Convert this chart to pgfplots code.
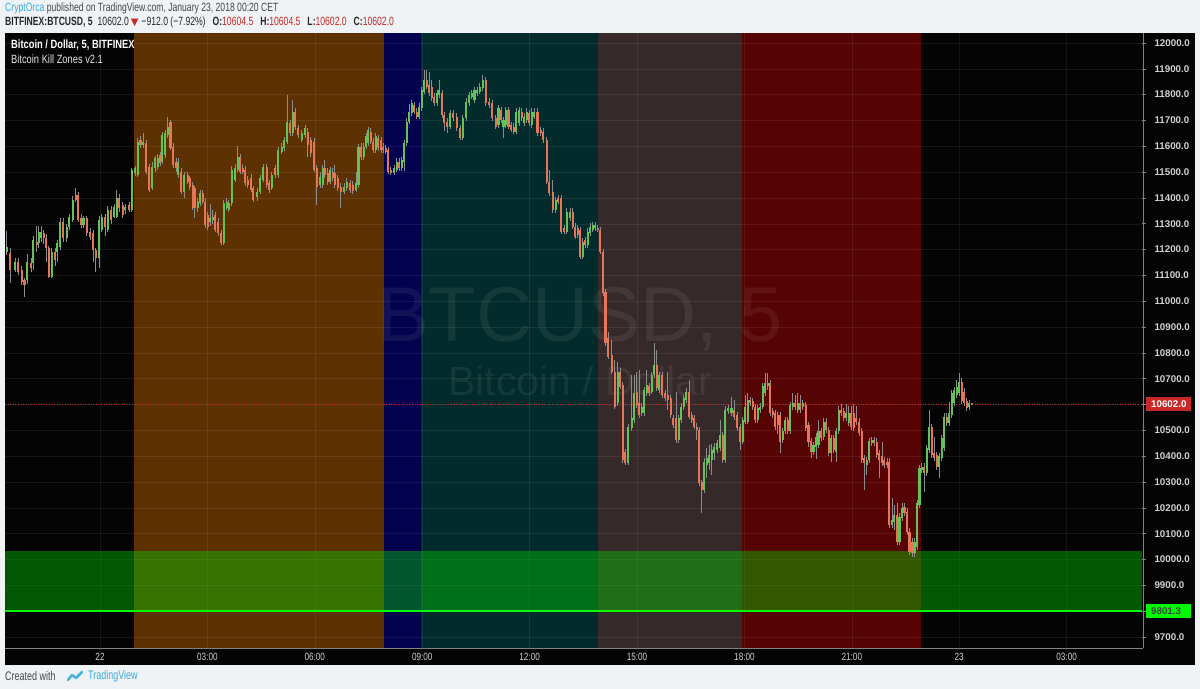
\documentclass[border=0pt]{standalone}
\usepackage{pgfplots}
\pgfplotsset{compat=1.18}
\usepackage{pgfplotstable}
\usepackage{fontspec}
\setmainfont{Liberation Sans}
\newfontfamily\nar{Liberation Sans}[FakeStretch=0.78]
\newfontfamily\hdr{Liberation Sans}[FakeStretch=0.72]
\newfontfamily\sym{DejaVu Sans}
\pgfdeclarelayer{bgl}
\pgfsetlayers{bgl,main}
\definecolor{bg}{RGB}{240,243,246}
\definecolor{panel}{RGB}{4,4,4}
\definecolor{orz}{RGB}{94,49,2}
\definecolor{navz}{RGB}{2,2,78}
\definecolor{tealz}{RGB}{3,43,43}
\definecolor{brz}{RGB}{54,41,41}
\definecolor{redz}{RGB}{86,3,3}
\definecolor{upc}{RGB}{100,194,86}
\definecolor{dnc}{RGB}{230,118,88}
\definecolor{wickc}{RGB}{140,140,145}
\definecolor{tvblue}{RGB}{60,170,220}
\definecolor{hdrgray}{RGB}{70,70,70}
\definecolor{valred}{RGB}{200,40,40}
\definecolor{axtxt}{RGB}{210,210,210}
\definecolor{sepc}{RGB}{130,130,130}
\definecolor{kzgreen}{RGB}{0,215,0}
\definecolor{lvlgreen}{RGB}{0,250,0}

\pgfplotstableread{
t o h l c
-2.61 11192 11272 11179 11211
-2.51 11186 11206 11071 11121
-2.37 11121 11168 11113 11153
-2.28 11153 11168 11102 11115
-2.19 11121 11137 11063 11076
-2.11 11082 11090 11017 11063
-2.03 11082 11183 11067 11151
-1.93 11147 11168 11113 11128
-1.86 11147 11253 11121 11237
-1.77 11231 11291 11191 11218
-1.71 11225 11291 11206 11269
-1.64 11244 11291 11229 11269
-1.57 11263 11276 11222 11244
-1.50 11244 11260 11152 11205
-1.43 11205 11214 11090 11095
-1.35 11095 11206 11090 11192
-1.26 11192 11206 11137 11160
-1.19 11192 11237 11152 11225
-1.12 11211 11322 11199 11308
-1.03 11308 11322 11229 11244
-0.93 11244 11299 11229 11289
-0.86 11289 11338 11276 11327
-0.76 11315 11408 11307 11392
-0.68 11411 11439 11384 11392
-0.61 11411 11423 11307 11315
-0.53 11321 11338 11284 11295
-0.46 11295 11330 11284 11321
-0.37 11321 11330 11253 11263
-0.28 11269 11284 11237 11250
-0.19 11263 11276 11152 11199
-0.12 11199 11206 11113 11166
-0.02 11166 11330 11129 11315
0.05 11276 11338 11268 11327
0.14 11327 11338 11253 11289
0.22 11276 11369 11268 11353
0.31 11353 11369 11299 11315
0.40 11327 11377 11322 11366
0.47 11327 11431 11322 11399
0.54 11399 11415 11346 11360
0.63 11373 11384 11322 11334
0.70 11353 11377 11338 11366
0.81 11373 11384 11346 11353
0.89 11353 11516 11346 11508
0.98 11495 11524 11485 11515
1.05 11489 11632 11481 11618
1.13 11624 11640 11593 11605
1.21 11605 11651 11593 11618
1.29 11612 11624 11493 11502
1.37 11521 11531 11423 11431
1.45 11437 11539 11431 11521
1.54 11515 11563 11500 11554
1.61 11521 11570 11508 11554
1.68 11566 11578 11524 11534
1.74 11540 11655 11531 11644
1.82 11566 11663 11555 11651
1.89 11644 11713 11632 11676
1.97 11695 11702 11586 11592
2.05 11599 11613 11516 11528
2.12 11540 11555 11500 11515
2.19 11489 11555 11477 11540
2.26 11502 11516 11415 11424
2.35 11424 11500 11400 11489
2.45 11489 11500 11454 11463
2.51 11476 11485 11431 11444
2.59 11450 11462 11353 11360
2.65 11437 11446 11322 11360
2.73 11360 11400 11346 11386
2.79 11379 11431 11369 11419
2.87 11419 11431 11377 11386
2.93 11386 11400 11284 11295
3.01 11334 11346 11276 11289
3.07 11308 11377 11291 11321
3.15 11315 11353 11299 11327
3.21 11334 11346 11268 11276
3.30 11308 11322 11253 11263
3.38 11263 11276 11218 11225
3.46 11225 11392 11218 11379
3.54 11360 11400 11353 11386
3.60 11353 11392 11346 11379
3.68 11379 11524 11369 11508
3.77 11470 11531 11462 11515
3.85 11508 11602 11500 11560
3.91 11560 11570 11493 11502
3.99 11515 11531 11493 11502
4.05 11508 11524 11446 11457
4.13 11470 11485 11439 11450
4.22 11476 11493 11423 11431
4.28 11437 11446 11384 11392
4.39 11405 11439 11388 11424
4.47 11424 11489 11415 11476
4.56 11470 11531 11462 11521
4.66 11521 11531 11439 11450
4.73 11457 11470 11419 11431
4.80 11437 11500 11431 11489
4.89 11515 11528 11477 11489
4.98 11489 11597 11477 11586
5.08 11579 11613 11570 11599
5.15 11592 11636 11582 11624
5.23 11618 11799 11609 11695
5.31 11689 11702 11640 11651
5.38 11651 11779 11640 11734
5.45 11734 11748 11663 11676
5.54 11670 11682 11632 11644
5.63 11624 11663 11617 11651
5.73 11644 11682 11632 11670
5.80 11657 11671 11559 11605
5.89 11624 11636 11559 11573
5.98 11618 11632 11500 11508
6.05 11515 11528 11373 11444
6.15 11450 11500 11439 11483
6.22 11450 11528 11439 11515
6.28 11515 11547 11477 11489
6.36 11495 11516 11450 11463
6.43 11463 11520 11454 11508
6.50 11502 11516 11466 11476
6.56 11495 11528 11439 11450
6.64 11476 11489 11427 11437
6.72 11444 11458 11361 11424
6.82 11424 11458 11415 11444
6.89 11437 11477 11427 11463
6.98 11457 11470 11419 11431
7.06 11450 11466 11415 11427
7.15 11431 11500 11423 11457
7.22 11450 11609 11439 11599
7.29 11599 11613 11547 11560
7.37 11560 11613 11547 11599
7.43 11599 11651 11590 11638
7.49 11612 11675 11602 11663
7.56 11657 11671 11609 11618
7.63 11618 11632 11574 11586
7.70 11586 11651 11574 11638
7.77 11631 11644 11582 11592
7.85 11624 11636 11574 11586
7.91 11599 11613 11574 11586
7.98 11592 11605 11570 11579
8.05 11586 11597 11493 11502
8.12 11508 11520 11489 11495
8.21 11495 11528 11489 11515
8.29 11508 11555 11500 11540
8.35 11540 11555 11504 11515
8.43 11515 11559 11504 11547
8.50 11540 11624 11504 11612
8.57 11612 11710 11602 11695
8.64 11695 11764 11686 11734
8.71 11728 11779 11717 11766
8.78 11760 11772 11726 11734
8.85 11734 11748 11706 11715
8.92 11715 11768 11706 11753
8.99 11747 11830 11737 11818
9.06 11811 11895 11802 11857
9.13 11857 11895 11822 11831
9.20 11837 11888 11795 11805
9.27 11831 11857 11775 11786
9.34 11792 11806 11756 11766
9.41 11766 11818 11756 11805
9.48 11799 11857 11787 11818
9.55 11805 11818 11710 11721
9.62 11721 11733 11659 11689
9.70 11695 11710 11651 11676
9.78 11676 11741 11667 11728
9.87 11728 11741 11698 11709
9.96 11715 11729 11659 11670
10.06 11670 11682 11624 11631
10.13 11631 11721 11624 11709
10.22 11709 11787 11698 11773
10.31 11766 11810 11756 11799
10.38 11792 11818 11783 11805
10.46 11779 11830 11768 11818
10.54 11805 11830 11795 11818
10.61 11811 11845 11802 11831
10.69 11825 11876 11814 11857
10.77 11857 11868 11756 11766
10.87 11773 11787 11748 11760
10.96 11766 11779 11698 11709
11.05 11709 11721 11667 11676
11.13 11682 11760 11671 11747
11.20 11741 11752 11690 11702
11.27 11676 11713 11632 11702
11.33 11682 11752 11671 11741
11.41 11741 11752 11667 11676
11.48 11682 11694 11655 11663
11.56 11676 11690 11648 11657
11.62 11657 11748 11648 11734
11.71 11689 11752 11679 11741
11.78 11734 11748 11698 11709
11.85 11689 11729 11679 11715
11.92 11702 11748 11690 11734
11.99 11728 11741 11679 11689
12.06 11682 11748 11671 11734
12.13 11715 11748 11706 11734
12.22 11734 11748 11640 11651
12.31 11663 11675 11640 11651
12.38 11657 11671 11613 11624
12.48 11624 11636 11454 11463
12.55 11463 11508 11408 11419
12.65 11424 11470 11342 11353
12.73 11353 11404 11342 11392
12.80 11399 11411 11377 11386
12.88 11399 11411 11260 11269
12.97 11282 11295 11260 11269
13.04 11269 11361 11260 11347
13.13 11321 11361 11311 11347
13.20 11347 11361 11280 11289
13.27 11289 11303 11241 11250
13.34 11282 11295 11245 11257
13.41 11276 11288 11164 11173
13.48 11173 11245 11164 11231
13.55 11237 11249 11206 11218
13.62 11218 11284 11206 11269
13.69 11263 11303 11253 11289
13.76 11276 11307 11268 11295
13.83 11282 11307 11272 11295
13.90 11282 11295 11268 11276
13.97 11276 11288 11183 11192
14.05 11192 11202 11020 11031
14.12 11037 11048 10827 10837
14.20 10857 10881 10775 10785
14.29 10792 10850 10720 10727
14.38 10727 10773 10583 10592
14.46 10605 10765 10595 10727
14.53 10727 10742 10661 10670
14.60 10676 10688 10374 10385
14.67 10418 10429 10366 10373
14.76 10373 10525 10366 10514
14.85 10508 10714 10498 10547
14.92 10540 10714 10529 10645
14.99 10650 10726 10587 10598
15.06 10605 10734 10549 10560
15.13 10566 10607 10556 10592
15.20 10566 10668 10556 10656
15.27 10645 10734 10633 10676
15.34 10670 10684 10633 10645
15.41 10650 10726 10641 10713
15.48 10713 10837 10703 10752
15.55 10752 10811 10653 10663
15.62 10656 10726 10645 10713
15.70 10713 10726 10626 10637
15.78 10645 10656 10615 10625
15.86 10637 10726 10579 10618
15.94 10625 10637 10549 10560
16.01 10547 10560 10510 10521
16.09 10547 10649 10452 10463
16.16 10463 10560 10452 10547
16.23 10540 10607 10529 10592
16.30 10592 10637 10579 10625
16.37 10618 10665 10607 10650
16.45 10650 10695 10545 10553
16.53 10560 10572 10529 10540
16.60 10547 10560 10506 10514
16.67 10514 10529 10463 10502
16.74 10502 10514 10285 10296
16.81 10301 10308 10181 10269
16.88 10269 10393 10257 10379
16.95 10366 10432 10316 10392
17.02 10373 10444 10347 10405
17.09 10385 10447 10328 10424
17.16 10412 10452 10385 10437
17.24 10424 10463 10413 10451
17.32 10432 10540 10421 10483
17.39 10483 10494 10374 10385
17.46 10385 10594 10374 10579
17.55 10574 10598 10565 10587
17.64 10566 10630 10556 10587
17.72 10579 10618 10540 10553
17.79 10560 10572 10498 10508
17.88 10514 10525 10424 10457
17.95 10457 10552 10447 10540
18.02 10534 10637 10525 10592
18.09 10534 10645 10525 10618
18.16 10618 10630 10595 10605
18.23 10612 10626 10579 10592
18.30 10592 10602 10529 10540
18.37 10540 10598 10529 10587
18.44 10579 10607 10569 10592
18.51 10592 10684 10583 10670
18.58 10645 10722 10633 10682
18.65 10670 10722 10656 10682
18.72 10682 10695 10556 10566
18.79 10574 10587 10549 10560
18.86 10566 10579 10502 10514
18.93 10560 10572 10486 10521
19.00 10560 10572 10413 10457
19.07 10463 10510 10452 10496
19.14 10496 10552 10486 10540
19.21 10540 10552 10486 10496
19.28 10496 10611 10486 10598
19.35 10592 10645 10579 10605
19.42 10605 10637 10579 10592
19.49 10579 10645 10569 10605
19.56 10605 10637 10569 10579
19.63 10592 10618 10579 10605
19.71 10598 10611 10498 10508
19.79 10521 10533 10436 10457
19.86 10457 10471 10393 10418
19.93 10418 10456 10405 10444
20.00 10437 10490 10389 10475
20.07 10444 10540 10432 10496
20.14 10496 10510 10460 10470
20.21 10475 10549 10463 10534
20.28 10534 10549 10490 10502
20.35 10502 10514 10401 10412
20.42 10412 10483 10378 10470
20.49 10470 10483 10413 10424
20.56 10418 10510 10378 10496
20.63 10496 10594 10486 10579
20.70 10579 10602 10556 10566
20.77 10574 10587 10537 10547
20.84 10547 10602 10537 10566
20.91 10528 10595 10518 10566
20.98 10566 10595 10502 10514
21.05 10566 10602 10498 10508
21.12 10547 10595 10521 10534
21.20 10534 10549 10479 10489
21.28 10496 10510 10374 10385
21.35 10392 10405 10269 10373
21.42 10366 10397 10328 10385
21.49 10385 10471 10374 10457
21.56 10451 10475 10440 10463
21.63 10463 10475 10440 10451
21.70 10457 10471 10393 10405
21.77 10412 10424 10316 10385
21.84 10399 10456 10362 10373
21.91 10385 10397 10355 10366
21.98 10379 10393 10355 10366
22.05 10379 10393 10122 10134
22.12 10134 10238 10122 10153
22.19 10146 10211 10114 10172
22.26 10172 10219 10056 10069
22.33 10069 10180 10056 10166
22.40 10160 10219 10149 10198
22.47 10204 10219 10168 10179
22.54 10185 10200 10095 10108
22.61 10108 10122 10018 10030
22.68 10069 10084 10010 10024
22.75 10024 10084 10010 10069
22.82 10050 10230 10037 10218
22.89 10211 10366 10200 10353
22.95 10347 10374 10336 10359
23.02 10359 10374 10262 10335
23.09 10335 10444 10324 10432
23.16 10424 10579 10413 10514
23.23 10514 10525 10393 10405
23.30 10412 10475 10382 10392
23.37 10405 10417 10347 10359
23.44 10359 10413 10316 10399
23.51 10392 10483 10382 10470
23.58 10432 10569 10421 10553
23.65 10553 10569 10518 10528
23.72 10528 10611 10518 10566
23.79 10560 10656 10549 10645
23.86 10605 10668 10595 10656
23.93 10637 10695 10626 10670
24.00 10645 10722 10633 10689
24.07 10689 10703 10602 10612
24.14 10650 10665 10595 10605
24.21 10612 10626 10576 10587
24.28 10592 10618 10579 10605
24.35 10604.5 10604.5 10602.0 10602.0
}\candles

\begin{document}
\begin{tikzpicture}
\begin{axis}[
  scale only axis, width=1137bp, height=615bp,
  xmin=-2.654, xmax=29.106, ymin=9657.4, ymax=12038.7,
  scaled y ticks=false, scaled x ticks=false,
  axis line style={draw=none},
  xtick={0,3,6,9,12,15,18,21,24,27},
  xticklabels={22,03:00,06:00,09:00,12:00,15:00,18:00,21:00,23,03:00},
  ytick={9700,9800,9900,10000,10100,10200,10300,10400,10500,10600,10700,10800,10900,11000,11100,11200,11300,11400,11500,11600,11700,11800,11900,12000},
  yticklabels={9700.0,{},9900.0,10000.0,10100.0,10200.0,10300.0,10400.0,10500.0,{},10700.0,10800.0,10900.0,11000.0,11100.0,11200.0,11300.0,11400.0,11500.0,11600.0,11700.0,11800.0,11900.0,12000.0},
  ytick pos=right, yticklabel pos=right, xtick pos=bottom,
  tick align=outside, major tick length=4bp,
  ytick style={draw=sepc, line width=0.6bp},
  xtick style={draw=none},
  yticklabel style={font=\fontsize{9.8}{10}\selectfont\bfseries, text=axtxt, anchor=west, xshift=5bp},
  xticklabel style={font=\nar\fontsize{10.5}{11}\selectfont, text=axtxt, anchor=center, yshift=-5bp},
]
\coordinate (A) at (rel axis cs:0,0);
% kill zones
\addplot[fill=orz, draw=none, forget plot] coordinates {(0.94,9657.4) (7.93,9657.4) (7.93,12038.7) (0.94,12038.7)};
\addplot[fill=navz, draw=none, forget plot] coordinates {(7.93,9657.4) (8.97,9657.4) (8.97,12038.7) (7.93,12038.7)};
\addplot[fill=tealz, draw=none, forget plot] coordinates {(8.97,9657.4) (13.92,9657.4) (13.92,12038.7) (8.97,12038.7)};
\addplot[fill=brz, draw=none, forget plot] coordinates {(13.92,9657.4) (17.92,9657.4) (17.92,12038.7) (13.92,12038.7)};
\addplot[fill=redz, draw=none, forget plot] coordinates {(17.92,9657.4) (22.92,9657.4) (22.92,12038.7) (17.92,12038.7)};
% grid
\pgfplotsinvokeforeach{9700,9800,...,12000}{\addplot[draw=white, draw opacity=0.07, line width=0.5bp, forget plot] coordinates {(-2.654,#1) (29.106,#1)};}
\pgfplotsinvokeforeach{0,3,...,27}{\addplot[draw=white, draw opacity=0.07, line width=0.5bp, forget plot] coordinates {(#1,9657.4) (#1,12038.7)};}
% watermark
\node[font=\fontsize{78}{78}\selectfont, text=white, text opacity=0.065] at (axis cs:13.41,10930) {BTCUSD, 5};
\node[font=\fontsize{41}{41}\selectfont, text=white, text opacity=0.065] at (axis cs:13.41,10690) {Bitcoin / Dollar};
% support zone
\addplot[fill=kzgreen, fill opacity=0.4, draw=none, forget plot] coordinates {(-2.654,9801.3) (29.106,9801.3) (29.106,10033) (-2.654,10033)};
\addplot[draw=lvlgreen, line width=2bp, forget plot] coordinates {(-2.654,9801.3) (29.106,9801.3)};
\addplot[draw=valred, dotted, line width=0.6bp, forget plot] coordinates {(-2.654,10602) (29.106,10602)};
% wicks
\addplot[only marks, mark=none, mark size=0pt, mark options={draw=none,fill=none}, forget plot,
  error bars/.cd, y dir=both, y explicit, error mark=none,
  error bar style={draw=wickc, line width=0.8bp}]
  table[x=t, y expr={(\thisrow{h}+\thisrow{l})/2}, y error expr={(\thisrow{h}-\thisrow{l})/2}] {\candles};
% up bodies
\addplot[only marks, mark=none, mark size=0pt, mark options={draw=none,fill=none}, forget plot,
  restrict expr to domain={\thisrow{c}-\thisrow{o}}{0:100000},
  error bars/.cd, y dir=both, y explicit, error mark=none,
  error bar style={draw=upc, line width=2.1bp}]
  table[x=t, y expr={(\thisrow{o}+\thisrow{c})/2}, y error expr={max(abs(\thisrow{c}-\thisrow{o})/2,1.6)}] {\candles};
% down bodies
\addplot[only marks, mark=none, mark size=0pt, mark options={draw=none,fill=none}, forget plot,
  restrict expr to domain={\thisrow{c}-\thisrow{o}}{-100000:-0.01},
  error bars/.cd, y dir=both, y explicit, error mark=none,
  error bar style={draw=dnc, line width=2.1bp}]
  table[x=t, y expr={(\thisrow{o}+\thisrow{c})/2}, y error expr={max(abs(\thisrow{c}-\thisrow{o})/2,1.6)}] {\candles};
\end{axis}
\begin{scope}[shift={(A)}, xshift=-5bp, yshift=-41bp, x=1bp, y=1bp]
\begin{pgfonlayer}{bgl}
\fill[bg] (0,0) rectangle (1200,689);
\fill[panel] (5,24) rectangle (1195,656);
\end{pgfonlayer}
% separators
\draw[sepc, line width=0.8bp] (1143,41) -- (1143,656);
\draw[sepc, line width=0.8bp] (5,41) -- (1143,41);
% last price labels
\fill[valred] (1146,278) rectangle (1191,292);
\node[font=\fontsize{9.8}{10}\selectfont\bfseries, text=white, anchor=west, inner sep=0] at (1151,285) {10602.0};
\fill[lvlgreen] (1146,71) rectangle (1191,85);
\node[font=\fontsize{9.8}{10}\selectfont\bfseries, text=black!75, anchor=west, inner sep=0] at (1151,78) {9801.3};
% header
\node[anchor=west, inner sep=0, font=\hdr\fontsize{12}{14}\selectfont, text=hdrgray] at (5,680.5)
  {\textcolor{tvblue}{CryptOrca} published on TradingView.com, January 23, 2018 00:20 CET};
\node[anchor=west, inner sep=0, font=\hdr\fontsize{12}{14}\selectfont, text=black!85] at (5,667)
  {\textbf{BITFINEX:BTCUSD, 5}\hspace{5bp}10602.0\hspace{2bp}{\sym\fontsize{10}{11}\selectfont\color{valred}▼}\hspace{3bp}−912.0 (−7.92\%)\hspace{7bp}\textbf{O:}\textcolor{valred}{10604.5}\hspace{7bp}\textbf{H:}\textcolor{valred}{10604.5}\hspace{7bp}\textbf{L:}\textcolor{valred}{10602.0}\hspace{7bp}\textbf{C:}\textcolor{valred}{10602.0}};
% in-chart legend
\node[anchor=west, inner sep=0, font=\nar\bfseries\fontsize{12}{13}\selectfont, text=white] at (11,644) {Bitcoin / Dollar, 5, BITFINEX};
\node[anchor=west, inner sep=0, font=\nar\fontsize{12}{13}\selectfont, text=white!90!black] at (11,630) {Bitcoin Kill Zones v2.1};
% footer
\node[anchor=west, inner sep=0, font=\hdr\fontsize{12.5}{14}\selectfont, text=hdrgray] at (5,13) {Created with};
\draw[tvblue!60, line width=3bp, line cap=round, line join=round] (68,9) -- (72,14) -- (76,11) -- (82,17);
\draw[tvblue, line width=1.6bp, line cap=round, line join=round] (68,9) -- (72,14) -- (76,11) -- (82,17);
\node[anchor=west, inner sep=0, font=\hdr\fontsize{12.5}{14}\selectfont, text=tvblue] at (88,13) {TradingView};
\end{scope}
\end{tikzpicture}
\end{document}
